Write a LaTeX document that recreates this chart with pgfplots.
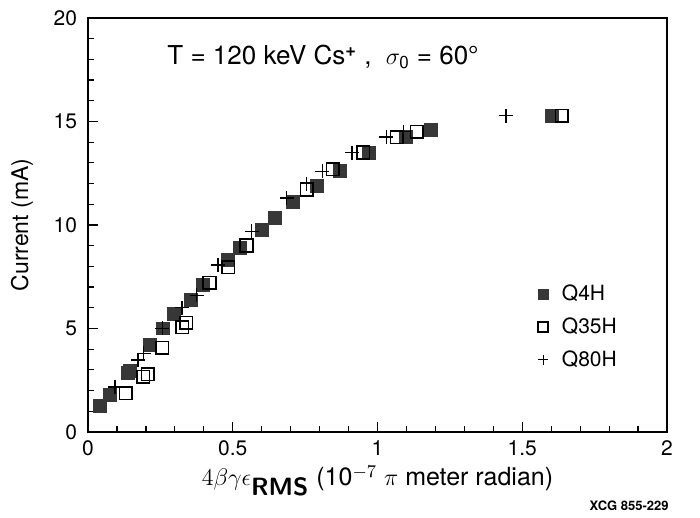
\documentclass[border=0pt]{standalone}
\usepackage{fontspec}
\setmainfont{TeX Gyre Heros}
\usepackage{pgfplots}
\pgfplotsset{compat=1.18}
\definecolor{fillgray}{RGB}{55,55,55}

\begin{document}
\begin{tikzpicture}
\begin{axis}[
  scale only axis,
  width=289.5pt, height=207pt,
  xmin=0, xmax=2, ymin=0, ymax=20,
  xtick={0,0.5,1,1.5,2},
  xticklabels={0,0.5,1,1.5,2},
  ytick={0,5,10,15,20},
  minor x tick num=4, minor y tick num=4,
  tick align=inside, xtick pos=bottom, ytick pos=left,
  major tick length=5pt, minor tick length=3pt,
  axis line style={line width=1pt},
  every tick/.style={black, line width=0.6pt},
  tick label style={font=\fontsize{10.5}{12}\selectfont},
  xticklabel style={yshift=-3pt, inner sep=1pt},
  yticklabel style={xshift=-2pt},
  /pgf/number format/assume math mode=true,
  xlabel={$4\beta\gamma\epsilon_{\textsf{\bfseries RMS}}$ (10$^{-7}$ $\pi$ meter radian)},
  ylabel={Current (mA)},
  label style={font=\fontsize{11.5}{13}\selectfont},
  xlabel style={at={(axis description cs:0.5,-0.118)}, anchor=center, inner sep=0pt,
    font=\fontsize{12.5}{14}\selectfont},
  ylabel style={at={(axis description cs:-0.114,0.5)}, anchor=center},
  clip=false,
  legend style={draw=none, fill=none, at={(0.755,0.375)}, anchor=north west,
    font=\fontsize{10.5}{12}\selectfont, row sep=3pt},
  legend cell align=left,
  legend image code/.code={\draw[#1, mark size=2.5pt] plot coordinates {(0.2cm,0cm)};
    \path (0cm,0cm) (0.45cm,0cm);},
]
\addplot[only marks, mark=square*, mark size=3.2pt, mark options={fill=fillgray, draw=fillgray}]
  coordinates {
  (0.041,1.26) (0.076,1.79) (0.138,2.85) (0.145,2.95) (0.214,4.2) (0.259,5.0)
  (0.297,5.7) (0.356,6.4) (0.397,7.1) (0.484,8.3) (0.525,8.9) (0.60,9.76)
  (0.646,10.34) (0.708,11.1) (0.79,11.9) (0.87,12.6) (0.971,13.5) (1.098,14.25)
  (1.185,14.6) (1.603,15.27)};
\addlegendentry{Q4H}
\addplot[only marks, mark=square, mark size=3.2pt, mark options={line width=0.9pt, fill=white}]
  coordinates {
  (0.131,1.88) (0.19,2.66) (0.207,2.8) (0.256,4.06) (0.325,5.07) (0.339,5.27)
  (0.42,7.2) (0.484,7.97) (0.548,9.0) (0.756,11.7) (0.846,12.7) (0.95,13.5)
  (1.067,14.25) (1.136,14.5) (1.637,15.27)};
\addlegendentry{Q35H}
\addplot[only marks, mark=+, mark size=3.5pt, mark options={line width=0.6pt}]
  coordinates {
  (0.093,2.17) (0.173,3.48) (0.193,3.8) (0.256,5.0) (0.325,6.0) (0.376,6.6)
  (0.449,8.07) (0.566,9.7) (0.687,11.3) (0.756,12.0) (0.81,12.6) (0.912,13.5)
  (1.03,14.25) (1.09,14.5) (1.444,15.27)};
\addlegendentry{Q80H}
\node[anchor=west, font=\fontsize{13}{15}\selectfont] at (axis cs:0.25,18.1)
  {T = 120 keV Cs\textsuperscript{\textbf{+}} ,\ \ $\sigma_{\mathsf{0}}$ = 60°};
\node[anchor=east, font=\bfseries\fontsize{6.5}{8}\selectfont] at (axis cs:2.03,-3.55) {XCG 855-229};
\end{axis}
\path[use as bounding box] (current axis.south west) ++(-44pt,-41pt) rectangle ([xshift=16.5pt,yshift=9pt]current axis.north east);
\end{tikzpicture}
\end{document}
